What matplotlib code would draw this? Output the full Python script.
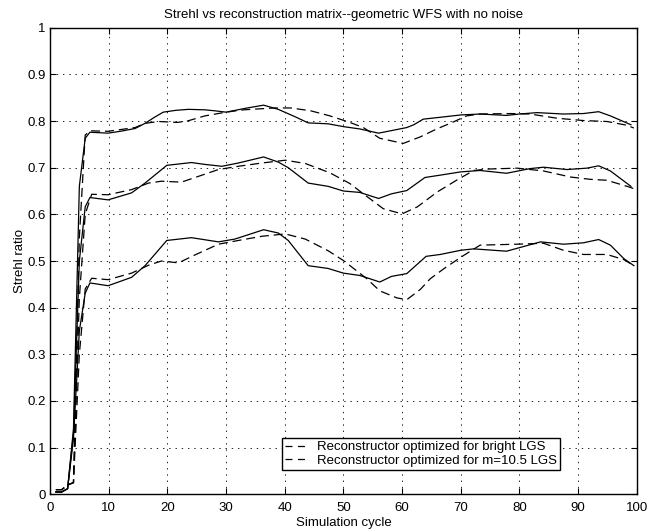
import matplotlib
matplotlib.use("Agg")
import matplotlib.pyplot as plt
from matplotlib.lines import Line2D
from matplotlib.ticker import FuncFormatter

plt.rcParams['font.family'] = ['Liberation Sans', 'DejaVu Sans']
plt.rcParams['lines.scale_dashes'] = False

title = "Strehl vs reconstruction matrix--geometric WFS with no noise"
xlabel = "Simulation cycle"
ylabel = "Strehl ratio"
legend_labels = ["Reconstructor optimized for bright LGS",
                 "Reconstructor optimized for m=10.5 LGS"]

# top group
x_top_solid = [1, 2, 3, 4, 5, 6, 6.8, 9.9, 12, 14.5, 16.2, 17.8, 19.3, 21.5, 23.6, 26.4, 28, 30,
               33.2, 36.4, 38.9, 41.8, 44, 47.4, 50, 52.8, 56, 58, 60.8, 62, 63.6, 66.5, 70, 73.3,
               77.8, 80, 83, 87.5, 90.9, 93.5, 95.5, 99]
y_top_solid = [.005, .005, .012, .14, .66, .763, .776, .774, .778, .784, .795, .808, .819, .823, .825,
               .824, .822, .819, .827, .834, .825, .809, .796, .794, .788, .783, .774, .779, .786, .792,
               .804, .808, .813, .815, .812, .815, .818, .815, .816, .820, .811, .792]
x_top_dash = [1, 2, 3, 4, 5, 6, 6.8, 9.9, 14.5, 16.2, 18.5, 21.7, 23.4, 26.4, 30, 33, 38.2, 41, 44.4,
              47.7, 51.1, 53.4, 56.2, 60.2, 63.1, 65.9, 68.2, 71, 73.3, 78.4, 81.8, 86.4, 90.9, 94.9,
              98.3, 99.5]
y_top_dash = [.01, .01, .02, .025, .55, .77, .779, .778, .786, .795, .799, .797, .800, .811, .819, .824,
              .828, .828, .822, .811, .797, .786, .763, .752, .766, .783, .795, .811, .815, .816, .815,
              .806, .801, .799, .791, .785]

# middle group
x_mid_solid = [1, 2, 3, 4, 5, 6, 6.8, 9.9, 13.9, 16.2, 19.9, 24.1, 26.4, 29.3, 32.1, 36.4, 38.9, 40.6,
               44, 47.4, 50, 52.8, 56, 58.2, 60.8, 63.9, 66.5, 70, 73.3, 77.8, 81.8, 84.1, 88.1, 91.5,
               93.5, 95.5, 99]
y_mid_solid = [.005, .005, .012, .13, .5, .616, .636, .631, .646, .667, .705, .711, .707, .703, .71,
               .723, .712, .70, .667, .66, .65, .647, .634, .644, .651, .679, .684, .691, .694, .688,
               .698, .701, .696, .699, .704, .693, .660]
x_mid_dash = [1, 2, 3, 4, 5, 6, 7.1, 9.9, 13.9, 16.8, 19, 22.4, 25.9, 28.7, 32.1, 36.1, 40.1, 43.5,
              47.7, 51.1, 53.4, 56.8, 60, 62.6, 66, 69.4, 72.2, 74.5, 79.6, 84.1, 88.7, 92.1, 94.9,
              98.6, 99.5]
y_mid_dash = [.01, .01, .02, .025, .42, .6, .643, .642, .653, .667, .671, .669, .684, .696, .703, .71,
              .716, .709, .689, .666, .644, .612, .601, .616, .648, .674, .694, .697, .699, .693, .68,
              .675, .673, .659, .655]

# bottom group
x_bot_solid = [1, 2, 3, 4, 5, 6, 6.8, 9.9, 13.9, 16.2, 19.9, 24.1, 28.7, 31.5, 36.4, 38.9, 40.6, 44,
               47.4, 50, 52.8, 56.2, 58.2, 60.8, 64.1, 66.5, 70, 72.2, 77.8, 83.6, 87.5, 90.9, 93.5,
               95.5, 97.8, 99.5]
y_bot_solid = [.005, .005, .012, .12, .35, .431, .453, .447, .465, .49, .544, .55, .541, .547, .567,
               .56, .544, .49, .484, .474, .469, .455, .467, .473, .51, .514, .523, .526, .521, .541,
               .536, .539, .546, .534, .505, .49]
x_bot_dash = [1, 2, 3, 4, 5, 6, 7.1, 9.9, 13.9, 16.8, 19, 21.9, 24.7, 28.7, 32.1, 36.1, 40.1, 43.5,
              47.4, 50, 54, 56.2, 59.1, 60.8, 63.1, 64.8, 67.4, 70.5, 73.3, 79.6, 84.1, 87.5, 90.9,
              94.9, 97.8, 99.5]
y_bot_dash = [.01, .01, .02, .025, .3, .44, .463, .46, .474, .491, .5, .496, .513, .536, .544, .553,
              .558, .547, .522, .501, .462, .436, .421, .417, .439, .462, .486, .512, .534, .536, .538,
              .523, .514, .514, .503, .49]

x_ticks = list(range(0, 101, 10))
y_ticks = [i / 10 for i in range(11)]

W, H = 647, 529
fig = plt.figure(figsize=(W / 100, H / 100), dpi=100)
ax = fig.add_axes([50 / W, (H - 494.3) / H, (636.8 - 50) / W, (494.3 - 27.7) / H])

DASH = (0, (6.5, 3.5))
lw = 0.9
for xs, ys in [(x_top_solid, y_top_solid), (x_mid_solid, y_mid_solid), (x_bot_solid, y_bot_solid)]:
    ax.plot(xs, ys, color='k', lw=lw, solid_joinstyle='round')
for xs, ys in [(x_top_dash, y_top_dash), (x_mid_dash, y_mid_dash), (x_bot_dash, y_bot_dash)]:
    ax.plot(xs, ys, color='k', lw=lw, linestyle=DASH)

ax.set_xlim(0, 100)
ax.set_ylim(0, 1)
ax.set_xticks(x_ticks)
ax.set_yticks(y_ticks)
ax.yaxis.set_major_formatter(FuncFormatter(lambda v, p: "%g" % round(v, 2)))
ax.tick_params(direction='in', top=True, right=True, length=4, width=0.8,
               labelsize=9.5, pad=3)
ax.tick_params(axis='x', pad=5.5)
ax.grid(True, color='k', linestyle=(0, (1, 3.5)), linewidth=0.6)
for s in ax.spines.values():
    s.set_linewidth(1.0)

ax.set_title(title, fontsize=9.5, pad=7)
ax.set_xlabel(xlabel, fontsize=9.5, labelpad=2.5)
ax.set_ylabel(ylabel, fontsize=9.5, labelpad=1)

handles = [Line2D([], [], color='k', lw=lw, linestyle=(0, (5, 4))),
           Line2D([], [], color='k', lw=lw, linestyle=(0, (5, 4)))]
leg = ax.legend(handles, legend_labels, loc='center',
                bbox_to_anchor=(0.632, 0.0865), fontsize=9.5, fancybox=False,
                framealpha=1, edgecolor='k', handlelength=1.8, handletextpad=0.6,
                borderpad=0.25, labelspacing=0.1, borderaxespad=0)
leg.get_frame().set_linewidth(1.0)

fig.savefig("out.png", dpi=100)
